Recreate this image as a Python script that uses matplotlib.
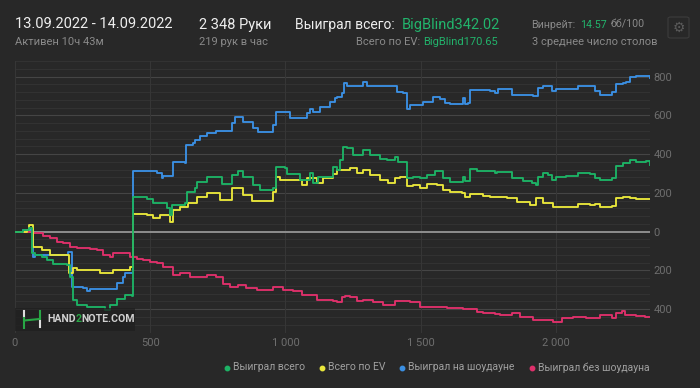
import matplotlib
matplotlib.use('Agg')
import matplotlib.pyplot as plt
from matplotlib.lines import Line2D
from matplotlib.patches import Rectangle, FancyBboxPatch

plt.rcParams.update({'font.family': ['Roboto', 'DejaVu Sans'], 'font.size': 8})

BG = '#282828'
C_WON = '#1db265'   # Выиграл всего
C_EV = '#e9e63b'    # Всего по EV
C_SD = '#3b8fe2'    # Выиграл на шоудауне
C_NSD = '#df306b'   # Выиграл без шоудауна
C_WHITE = '#eeeeee'
C_GRAY = '#8a8a8a'
C_GREEN = '#22b46c'

# ---- data (hand number, big blinds) ----
won_x = [0, 31, 53, 62, 63, 74, 99, 117, 142, 191, 201, 203, 216, 228, 265, 333, 351, 376, 407, 431,
         437, 487, 511, 548, 561, 573, 579, 628, 635, 665, 672, 709, 758, 764, 795, 801, 826, 838, 844,
         869, 881, 906, 943, 955, 965, 998, 1004, 1053, 1078, 1090, 1103, 1115, 1121, 1171, 1177, 1190,
         1202, 1214, 1227, 1251, 1288, 1313, 1350, 1374, 1405, 1418, 1448, 1473, 1498, 1522, 1547, 1553,
         1584, 1609, 1645, 1658, 1664, 1676, 1682, 1707, 1744, 1775, 1781, 1824, 1836, 1879, 1910, 1926,
         1935, 1953, 1972, 1984, 2002, 2039, 2082, 2126, 2144, 2163, 2206, 2222, 2249, 2273, 2298, 2335, 2347]
won_y = [0, 10, 18, 15, -112, -118, -128, -146, -165, -172, -170, -232, -352, -378, -387, -404, -380, -345, -327, -330,
         177, 170, 146, 150, 120, 85, 138, 146, 206, 224, 258, 280, 280, 246, 246, 292, 315, 315, 280,
         280, 241, 215, 215, 224, 332, 327, 300, 267, 267, 301, 250, 250, 284, 284, 332, 320,
         370, 435, 430, 396, 421, 396, 373, 370, 387, 361, 275, 284, 275, 292, 292, 313,
         275, 258, 258, 284, 260, 262, 325, 315, 315, 301, 310, 310, 275, 263, 253, 241,
         284, 301, 292, 267, 284, 287, 304, 298, 275, 267, 275, 339, 353, 370, 361, 366, 344]

ev_x = [0, 43, 53, 62, 65, 92, 99, 129, 197, 201, 209, 216, 228, 302, 314, 351, 363, 400, 425,
        437, 487, 511, 536, 561, 573, 585, 610, 641, 672, 709, 745, 758, 789, 801, 826, 844, 875,
        943, 955, 965, 980, 1041, 1060, 1078, 1103, 1115, 1140, 1177, 1190, 1239, 1264, 1288, 1313,
        1350, 1381, 1405, 1424, 1448, 1473, 1498, 1522, 1559, 1584, 1609, 1652, 1664, 1682, 1732,
        1756, 1818, 1855, 1904, 1928, 1953, 1990, 2039, 2082, 2126, 2144, 2163, 2206, 2222, 2249,
        2273, 2298, 2347]
ev_y = [0, 8, 34, 34, -77, -77, -95, -120, -120, -215, -215, -189, -198, -198, -215, -215, -198, -198, -180,
        91, 86, 69, 86, 86, 52, 112, 129, 146, 177, 198, 198, 163, 163, 224, 224, 189, 160,
        160, 206, 284, 267, 267, 241, 275, 275, 250, 275, 296, 318, 327, 304, 318, 294,
        267, 250, 275, 280, 236, 241, 224, 246, 241, 215, 206, 198, 177, 194, 184,
        181, 172, 155, 138, 172, 150, 129, 129, 143, 138, 145, 129, 132, 172, 177,
        172, 167, 167]

sd_x = [0, 31, 55, 65, 74, 185, 197, 210, 253, 265, 277, 351, 376, 400, 407,
        437, 511, 524, 542, 548, 579, 583, 628, 632, 659, 665, 684, 709, 745, 795, 801, 813, 838, 844,
        869, 881, 899, 949, 955, 965, 998, 1017, 1053, 1078, 1090, 1103, 1115, 1127, 1152, 1164, 1183,
        1190, 1208, 1217, 1227, 1276, 1288, 1301, 1399, 1411, 1436, 1448, 1461, 1485, 1510, 1535, 1547,
        1572, 1590, 1609, 1645, 1658, 1664, 1676, 1682, 1744, 1756, 1774, 1787, 1824, 1836, 1879, 1916,
        1926, 1935, 1953, 1972, 1984, 2002, 2076, 2082, 2126, 2144, 2163, 2187, 2206, 2222, 2249, 2261,
        2273, 2298, 2335, 2347]
sd_y = [0, 10, 8, -129, -120, -120, -103, -284, -290, -304, -298, -298, -267, -232, -215,
        315, 313, 304, 275, 287, 287, 361, 356, 447, 456, 473, 494, 507, 521, 521, 562, 593, 593, 568,
        568, 533, 516, 516, 550, 616, 616, 585, 585, 611, 631, 616, 616, 642, 642, 671, 688,
        697, 714, 766, 753, 753, 774, 752, 753, 722, 714, 631, 653, 653, 671, 671, 697,
        683, 666, 659, 659, 688, 659, 662, 731, 731, 726, 717, 734, 734, 705, 705, 703,
        698, 740, 752, 752, 727, 736, 736, 752, 752, 727, 705, 705, 722, 763, 766, 774,
        800, 803, 803, 792]

nsd_x = [0, 55, 68, 92, 105, 129, 154, 179, 203, 228, 253, 277, 302, 326, 351, 363, 388, 425, 450,
         474, 499, 524, 548, 585, 598, 610, 647, 696, 709, 745, 770, 795, 819, 826, 856, 893, 930,
         955, 992, 1029, 1060, 1090, 1115, 1140, 1177, 1190, 1208, 1220, 1239, 1264, 1288, 1325, 1362,
         1405, 1461, 1498, 1547, 1596, 1658, 1707, 1732, 1775, 1793, 1836, 1867, 1916, 1953, 1990,
         2021, 2064, 2113, 2163, 2206, 2222, 2243, 2255, 2298, 2329, 2347]
nsd_y = [0, 9, -9, -9, -22, -34, -52, -60, -77, -86, -86, -91, -95, -120, -129, -108, -110, -129, -143,
         -146, -155, -163, -181, -224, -224, -212, -232, -232, -224, -236, -270, -284, -284, -273, -292, -301, -301,
         -287, -301, -304, -327, -327, -353, -350, -356, -361, -339, -332, -337, -356, -350, -361, -378,
         -356, -365, -387, -387, -396, -401, -413, -421, -425, -428, -421, -439, -456, -453, -464,
         -447, -442, -447, -430, -447, -421, -409, -430, -435, -442, -439]

y_ticks = [-400, -200, 0, 200, 400, 600, 800]
x_ticks = [0, 500, 1000, 1500, 2000]
legend_labels = ['Выиграл всего', 'Всего по EV', 'Выиграл на шоудауне', 'Выиграл без шоудауна']

W, H = 700, 388
fig = plt.figure(figsize=(W / 100, H / 100), dpi=100, facecolor=BG)


def fx(px):
    return px / W


def fy(py):
    return 1 - py / H


ax = fig.add_axes([fx(15), fy(332.5), (650 - 15) / W, (332.5 - 61.2) / H])
ax.set_facecolor(BG)
ax.set_xlim(0, 2348)
ax.set_ylim(-520, 880)
for v in range(-520, 881, 40):
    if v == 0:
        continue
    ax.axhline(v, color='#454545' if v % 200 == 0 else '#323232', lw=0.8, zorder=0)
for v in x_ticks:
    ax.axvline(v, color='#363636', lw=0.8, zorder=0)
ax.axhline(0, color='#8e8e8e', lw=1.4, zorder=1)

for xs, ys, c in [(nsd_x, nsd_y, C_NSD), (sd_x, sd_y, C_SD), (ev_x, ev_y, C_EV), (won_x, won_y, C_WON)]:
    ax.plot(xs, ys, drawstyle='steps-post', color=c, lw=1.35, zorder=3)

for s in ax.spines.values():
    s.set_visible(False)
ax.yaxis.tick_right()
ax.set_yticks(y_ticks)
ax.set_yticklabels([str(abs(v)) for v in y_ticks])
ax.set_xticks(x_ticks)
ax.set_xticklabels([f'{v:,}'.replace(',', ' ') for v in x_ticks])
ax.tick_params(length=0, colors='#6e6e6e', labelsize=8)
ax.tick_params(axis='y', pad=2.5)
ax.tick_params(axis='x', pad=4)

# header (each piece at its own left edge)
header = [
    (15.5, 24.5, '13.09.2022 - 14.09.2022', C_WHITE, 10.5),
    (15.5, 42, 'Активен 10ч 43м', C_GRAY, 8),
    (198.7, 24.5, '2 348 Руки', C_WHITE, 10.5),
    (198.7, 42, '219 рук в час', C_GRAY, 8),
    (295, 24.5, 'Выиграл всего:', C_WHITE, 10),
    (401.5, 24.5, 'BigBlind342.02', C_GREEN, 10.5),
    (356.5, 42, 'Всего по EV:', C_GRAY, 8),
    (423, 42, 'BigBlind170.65', C_GREEN, 8),
    (531.5, 24.5, 'Винрейт:', C_GRAY, 7.7),
    (580.5, 24.5, '14.57', C_GREEN, 7.7),
    (610.7, 24.5, 'бб/100', C_GRAY, 7.7),
    (531.5, 42, '3 среднее число столов', C_GRAY, 8),
]
for px, py, s, c, fs in header:
    fig.text(fx(px), fy(py), s, color=c, fontsize=fs, va='center')

# settings button
fig.patches.append(FancyBboxPatch((fx(668), fy(38)), (689 - 668) / W, 21 / H,
                                  boxstyle='round,pad=0,rounding_size=0.004', fc='none', ec='#3c3c3c',
                                  lw=0.8, transform=fig.transFigure, figure=fig))
fig.text(fx(678.5), fy(27.5), '⚙', color='#5a5a5a', fontsize=10, ha='center', va='center',
         family='DejaVu Sans')

# legend
leg_pos = [226.7, 321.7, 401.7, 532]
for px, lab, c in zip(leg_pos, legend_labels, [C_WON, C_EV, C_SD, C_NSD]):
    fig.add_artist(Line2D([fx(px)], [fy(367.5)], marker='o', ms=3.2, color=c, lw=0,
                          transform=fig.transFigure))
    fig.text(fx(px + 6), fy(367.5), lab, color='#a0a0a0', fontsize=7.5, va='center')

# watermark
fig.patches.append(Rectangle((fx(15), fy(331)), 120 / W, 23 / H, fc='#1f1f1f', alpha=0.75,
                             ec='none', transform=fig.transFigure, figure=fig, zorder=4))
for (x0, y0, x1, y1, c) in [(24, 311, 24, 316.5, '#dddddd'), (24, 318, 24, 327.5, '#28a745'),
                            (24, 320.5, 39.5, 319, '#28a745'), (39.5, 310.5, 39.5, 319, '#28a745'),
                            (39.5, 321, 39.5, 327, '#dddddd')]:
    fig.add_artist(Line2D([fx(x0), fx(x1)], [fy(y0), fy(y1)], color=c, lw=1.5,
                          transform=fig.transFigure, zorder=5))
wx = fx(47)
for s, c in [('HAND', '#d0d0d0'), ('2', '#28a745'), ('NOTE.COM', '#d0d0d0')]:
    t = fig.text(wx, fy(319.5), s, color=c, fontsize=7.6, fontweight='bold', va='center', zorder=6)
    bb = t.get_window_extent(fig.canvas.get_renderer())
    wx = bb.x1 / W

fig.savefig('out.png', dpi=100, facecolor=BG)
